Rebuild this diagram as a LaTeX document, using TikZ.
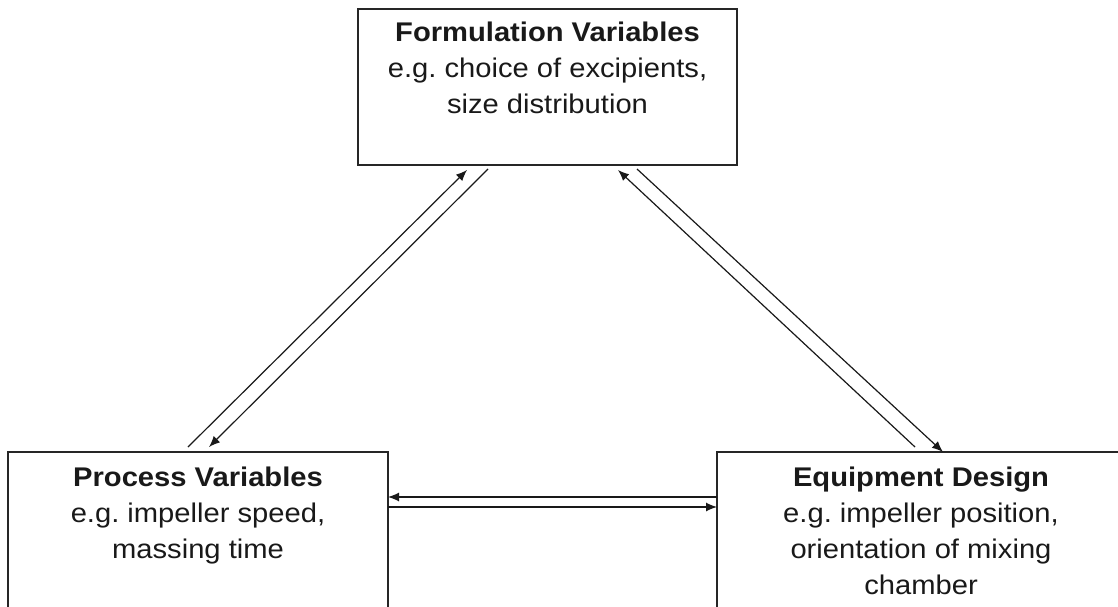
\documentclass[tikz,border=0pt]{standalone}
\usepackage{fontspec}
\setmainfont[FakeStretch=1.08]{Liberation Sans}
\usetikzlibrary{arrows.meta}
\begin{document}
\frenchspacing
\begin{tikzpicture}[x=1pt,y=-1pt,
  box/.style={draw=black!85, line width=2pt, rectangle, inner sep=0pt, outer sep=0pt, anchor=north west},
  txt/.style={anchor=north, align=center, inner sep=0pt, text=black!90, font=\fontsize{27}{36}\selectfont},
  link/.style={draw=black!90, line width=1.2pt, -{Latex[length=11pt,width=9pt]}}]
\useasboundingbox (0,0) rectangle (1118,607);
\clip (0,0) rectangle (1118,607);
% boxes
\node[box, minimum width=379pt, minimum height=156pt] (form) at (358,9) {};
\node[box, minimum width=380pt, minimum height=200pt] (proc) at (8,452) {};
\node[box, minimum width=420pt, minimum height=200pt] (equip) at (717,452) {};
% texts
\node[txt] (formtxt) at (547.5,21.5) {\textbf{Formulation Variables}\\e.g. choice of excipients,\\size distribution};
\node[txt] (proctxt) at (198,466.5) {\textbf{Process Variables}\\e.g. impeller speed,\\massing time};
\node[txt] (equiptxt) at (921,466.5) {\textbf{Equipment Design}\\e.g. impeller position,\\orientation of mixing\\chamber};
% connector end points
\coordinate (p1) at (188,447); \coordinate (f1) at (467,170);
\coordinate (f2) at (488,169); \coordinate (p2) at (209,447);
\coordinate (e1) at (915,447); \coordinate (f3) at (618,170);
\coordinate (f4) at (637,169); \coordinate (e2) at (943,452);
\coordinate (e3) at (717,497); \coordinate (p3) at (388,497);
\coordinate (p4) at (388,507); \coordinate (e4) at (717,507);
% connectors
\draw[link] (p1) -- (f1);
\draw[link] (f2) -- (p2);
\draw[link] (e1) -- (f3);
\draw[link] (f4) -- (e2);
\draw[link] (e3) -- (p3);
\draw[link] (p4) -- (e4);
\end{tikzpicture}
\end{document}
